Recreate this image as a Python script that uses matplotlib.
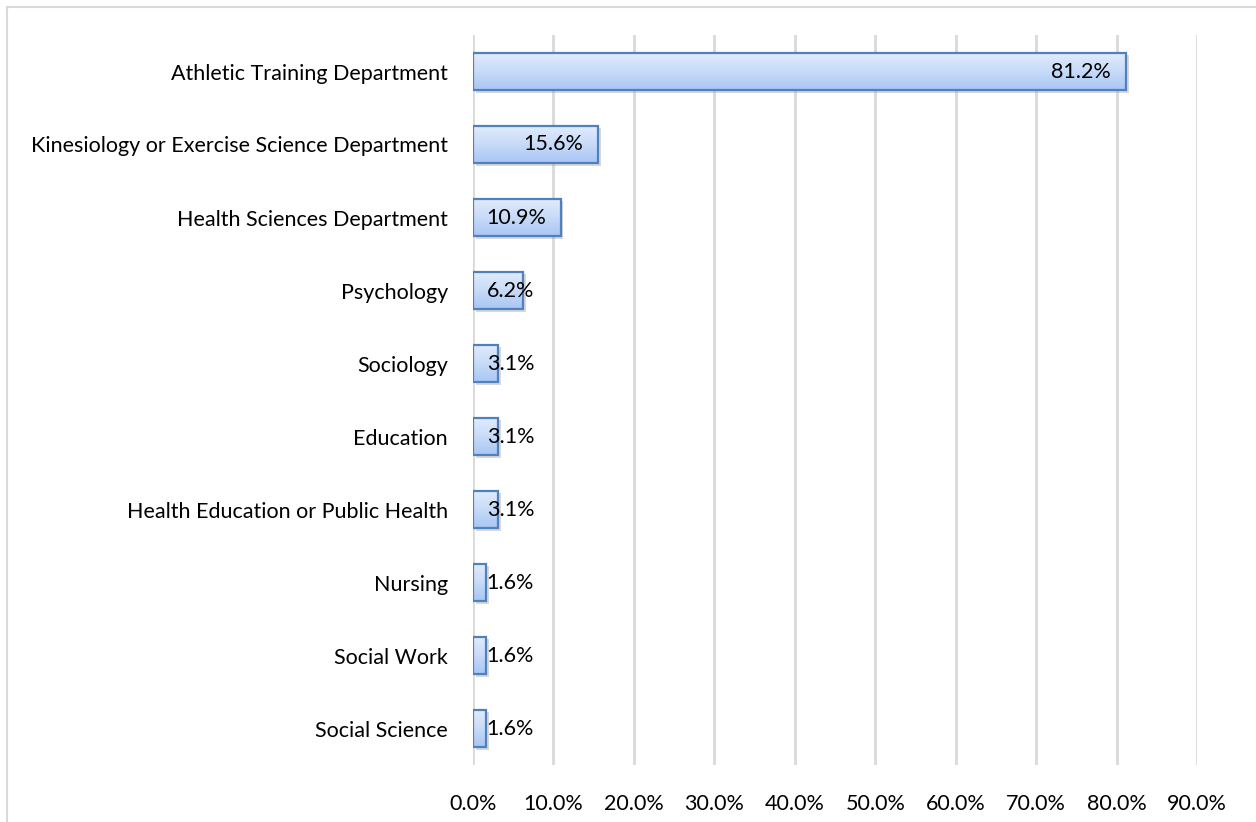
import numpy as np
import matplotlib
matplotlib.use("Agg")
import matplotlib.pyplot as plt
from matplotlib import patheffects
from matplotlib.lines import Line2D
from matplotlib.colors import LinearSegmentedColormap

plt.rcParams['font.family'] = ['Lato', 'DejaVu Sans']

# data
departments = ['Athletic Training Department', 'Kinesiology or Exercise Science Department',
               'Health Sciences Department', 'Psychology', 'Sociology', 'Education',
               'Health Education or Public Health', 'Nursing', 'Social Work', 'Social Science']
percents = [81.2, 15.6, 10.9, 6.2, 3.1, 3.1, 3.1, 1.6, 1.6, 1.6]
xticks = [0, 10, 20, 30, 40, 50, 60, 70, 80, 90]

fig = plt.figure(figsize=(12.56, 8.22), dpi=100)
ax = fig.add_axes([473 / 1256, 1 - 765 / 822, (1197 - 473) / 1256, (765 - 35) / 822])

y = np.arange(len(departments))
h = 0.52

# shadow + base fill
ax.barh(y, percents, height=h, color='#b8d0f5', zorder=2,
        path_effects=[patheffects.SimplePatchShadow(offset=(2, -2), shadow_rgbFace='#909090', alpha=0.35),
                      patheffects.Normal()])

# gradient fill, lighter at top, bluer at bottom
grad_cmap = LinearSegmentedColormap.from_list('g', ['#e2ecfc', '#c8dbf8', '#a8c6f4'])
grad = np.linspace(0, 1, 64).reshape(-1, 1)
for yi, v in zip(y, percents):
    ax.imshow(grad, cmap=grad_cmap, aspect='auto', origin='upper',
              extent=[0, v, yi + h / 2, yi - h / 2], zorder=3, interpolation='bilinear')

ax.barh(y, percents, height=h, facecolor='none', edgecolor='#4f81bd', linewidth=1.6, zorder=4)

# value labels
for yi, v in zip(y, percents):
    if v > 12:
        ax.text(v - 1.9, yi, f'{v:.1f}%', ha='right', va='center', fontsize=15.5, color='black', zorder=5)
    else:
        ax.text(1.7, yi, f'{v:.1f}%', ha='left', va='center', fontsize=15.5, color='black', zorder=5)

ax.set_xlim(0, 90)
ax.set_ylim(len(departments) - 0.5, -0.5)
ax.set_xticks(xticks)
ax.set_xticklabels([f'{t:.1f}%' for t in xticks], fontsize=15.5)
ax.set_yticks(y)
ax.set_yticklabels(departments, fontsize=15.5)
ax.tick_params(axis='x', length=0, pad=21)
ax.tick_params(axis='y', length=0, pad=18)
ax.grid(axis='x', color='#d9d9d9', linewidth=2)
ax.set_axisbelow(True)
for s in ax.spines.values():
    s.set_visible(False)

# outer frame
fig.add_artist(Line2D([7 / 1256, 1], [1 - 7 / 822, 1 - 7 / 822], color='#d9d9d9', linewidth=1.5))
fig.add_artist(Line2D([7 / 1256, 7 / 1256], [0, 1 - 7 / 822], color='#d9d9d9', linewidth=1.5))

plt.savefig('out.png', dpi=100)
